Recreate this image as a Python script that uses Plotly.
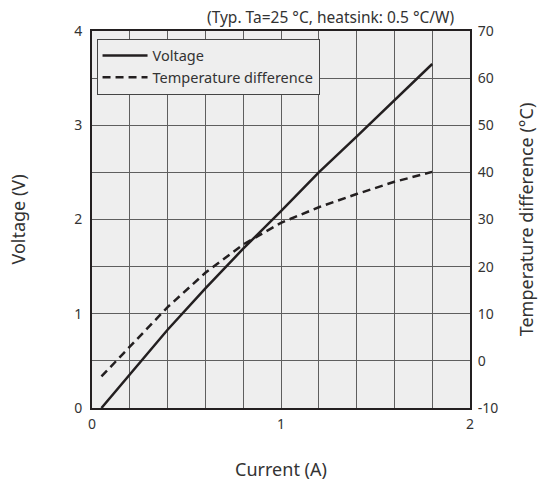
import plotly.graph_objects as go

current_v = [0.05, 0.2, 0.4, 0.6, 0.8, 1.0, 1.2, 1.4, 1.6, 1.8]
voltage = [0.0, 0.36, 0.83, 1.27, 1.69, 2.09, 2.50, 2.88, 3.27, 3.65]
current_t = [0.05, 0.2, 0.4, 0.6, 0.8, 1.0, 1.2, 1.4, 1.6, 1.8]
temp_diff = [-3.3, 3.0, 11.4, 18.7, 24.7, 29.3, 32.6, 35.4, 38.0, 40.1]

x_ticks = [0, 1, 2]
y_ticks = [0, 1, 2, 3, 4]
y2_ticks = [-10, 0, 10, 20, 30, 40, 50, 60, 70]
y2_labels = ["-10", "0", "10", "20", "30", "40", "50", "60", "70"]

FONT = "Noto Sans"
INK = "#231f20"
GRID = "#5e5e5e"
TXT = "#333333"
TICKFONT = dict(family=FONT, size=14, color=TXT)

fig = go.Figure()
fig.add_trace(go.Scatter(x=current_v, y=voltage, mode="lines", name="Voltage",
                         line=dict(color=INK, width=2.5), yaxis="y"))
fig.add_trace(go.Scatter(x=current_t, y=temp_diff, mode="lines", name="Temperature difference",
                         line=dict(color=INK, width=2.5, dash="8px,5px"), yaxis="y2"))

fig.update_layout(
    width=541, height=481,
    margin=dict(l=92, r=71, t=31, b=73, autoexpand=False),
    paper_bgcolor="white", plot_bgcolor="#eeeeee",
    font=dict(family=FONT, size=15, color=TXT),
    showlegend=True,
    legend=dict(x=0.012, y=0.98, xanchor="left", yanchor="top",
                bgcolor="#eeeeee", bordercolor="#444", borderwidth=1,
                font=dict(size=14.5), tracegroupgap=0, itemwidth=45),
    xaxis=dict(range=[0, 2], tickvals=x_ticks, showgrid=False, zeroline=False,
               showline=True, linecolor=INK, linewidth=2, mirror=True, automargin=False,
               ticks="outside", ticklen=2, tickcolor="rgba(0,0,0,0)", tickfont=TICKFONT,
               minor=dict(dtick=0.2, showgrid=True, gridcolor=GRID, gridwidth=1),
               title=dict(text="Current (A)", standoff=42)),
    yaxis=dict(range=[0, 4], tickvals=y_ticks, showgrid=False, zeroline=False,
               showline=True, linecolor=INK, linewidth=2, mirror=True, automargin=False,
               ticks="outside", ticklen=5, tickcolor="rgba(0,0,0,0)", tickfont=TICKFONT,
               minor=dict(dtick=0.5, showgrid=True, gridcolor=GRID, gridwidth=1),
               title=dict(text="Voltage (V)", standoff=44)),
    yaxis2=dict(range=[-10, 70], tickvals=y2_ticks, ticktext=y2_labels, overlaying="y", side="right",
                showgrid=False, zeroline=False, showline=False, automargin=False,
                ticks="outside", ticklen=4, tickcolor="rgba(0,0,0,0)", tickfont=TICKFONT,
                title=dict(text="Temperature difference (°C)", standoff=23)),
    annotations=[dict(text="(Typ. Ta=25 °C, heatsink: 0.5 °C/W)", xref="paper", yref="paper",
                      x=0.963, y=1.0, xanchor="right", yanchor="bottom", showarrow=False,
                      font=dict(size=15.5), yshift=1)],
)

fig.write_html("out.html")
